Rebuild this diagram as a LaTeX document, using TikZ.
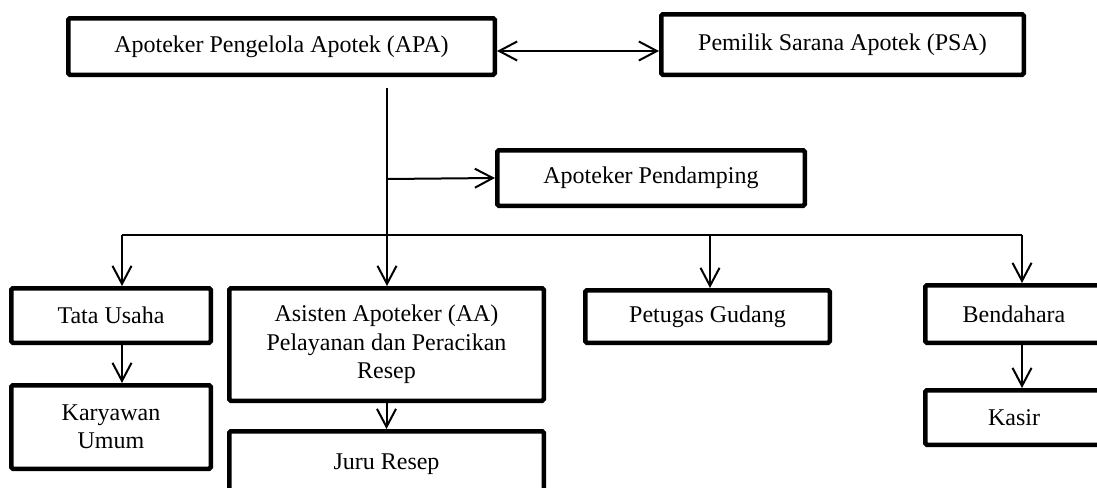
\documentclass[tikz,border=0pt]{standalone}
\usepackage{fontspec}
\setmainfont{Liberation Serif}
\usetikzlibrary{arrows.meta}
\tikzset{
  box/.style={draw, line width=2.25pt, rounded corners=0.8pt, align=center, inner sep=0pt,
    font=\fontsize{12}{14.2}\selectfont},
  conn/.style={line width=1pt, -{Straight Barb[length=9pt,width=9.5pt,line width=1pt]}},
  dconn/.style={line width=1pt, {Straight Barb[length=9pt,width=9.5pt,line width=1pt]}-{Straight Barb[length=9pt,width=9.5pt,line width=1pt]}},
  bus/.style={line width=0.8pt},
  trunk/.style={line width=1pt}
}
\begin{document}
\begin{tikzpicture}[x=0.5pt,y=-0.5pt]
\clip (0,0) rectangle (1097,487);
\useasboundingbox (0,0) rectangle (1097,487);
% boxes
\node[box, minimum width=213.25pt, minimum height=28.25pt] (apa) at (281.5,46.5) {Apoteker Pengelola Apotek (APA)};
\node[box, minimum width=181.25pt, minimum height=30.25pt] (psa) at (842.5,44.5) {Pemilik Sarana Apotek (PSA)};
\node[box, minimum width=153.75pt, minimum height=27.75pt] (pend) at (651,178) {Apoteker Pendamping};
\node[box, minimum width=99.75pt, minimum height=27.25pt] (tata) at (111,315.5) {Tata Usaha};
\node[box, minimum width=99.75pt, minimum height=41.75pt] (kary) at (111,427) {Karyawan\\Umum};
\node[box, minimum width=157.25pt, minimum height=56.25pt] (asis) at (386.5,344.5) {Asisten Apoteker (AA)\\Pelayanan dan Peracikan\\Resep};
\node[box, minimum width=157.25pt, minimum height=33.25pt] (juru) at (386.5,464.5) {Juru Resep};
\node[box, minimum width=122.25pt, minimum height=26.25pt] (petu) at (707.5,316.5) {Petugas Gudang};
\node[box, minimum width=88.75pt, minimum height=28.75pt] (bend) at (1014,314) {Bendahara};
\node[box, minimum width=88.75pt, minimum height=27.25pt] (kasir) at (1014,417.5) {Kasir};
% helper coordinates
\coordinate (ay) at (0,51);
\coordinate (top) at (387,88);
\coordinate (pj) at (387,179);
\coordinate (bl) at (122,235);
\coordinate (bm) at (387,235);
\coordinate (bp) at (710,235);
\coordinate (br) at (1022,235);
% connectors
\draw[dconn] (apa.east |- ay) -- (psa.west |- ay);
\draw[conn] (top) -- (top |- asis.north);
\draw[conn] (pj) -- (pend.west);
\draw[bus] (bl) -- (br);
\draw[conn] (bl) -- (bl |- tata.north);
\draw[conn] (bp) -- (bp |- petu.north);
\draw[conn] (br) -- (br |- bend.north);
\draw[conn] (tata.south -| bl) -- (kary.north -| bl);
\draw[conn] (asis.south) -- (juru.north);
\draw[conn] (bend.south -| br) -- (kasir.north -| br);
\end{tikzpicture}
\end{document}
